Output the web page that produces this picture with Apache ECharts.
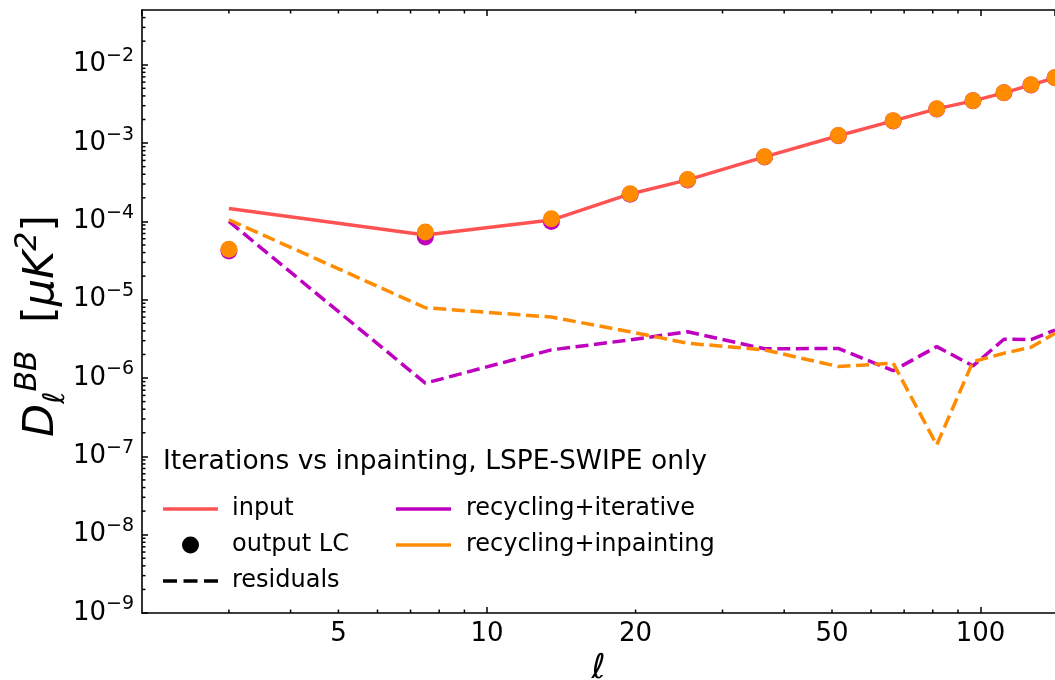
<!DOCTYPE html>
<html>
<head>
<meta charset="utf-8">
<title>BB spectra</title>
<script src="https://cdn.jsdelivr.net/npm/echarts@6/dist/echarts.min.js"></script>
<style>
  html, body { margin: 0; padding: 0; background: #fff; }
  #chart { width: 1055px; height: 680px; }
</style>
</head>
<body>
<div id="chart"></div>
<script>
// multipole bin centres
var ell = [3, 7.5, 13.5, 19.5, 25.5, 36.5, 51.5, 66.5, 81.5, 96.5, 111.5, 126.5, 141.5];
// input spectrum
var input = [1.46e-4, 6.7e-5, 1.04e-4, 2.24e-4, 3.39e-4, 6.67e-4, 1.24e-3, 1.92e-3, 2.73e-3, 3.46e-3, 4.38e-3, 5.53e-3, 6.8e-3];
// output LC spectra
var outIterative = [4.2e-5, 6.3e-5, 1.0e-4, 2.22e-4, 3.37e-4, 6.65e-4, 1.24e-3, 1.92e-3, 2.73e-3, 3.46e-3, 4.38e-3, 5.53e-3, 6.8e-3];
var outInpainting = [4.4e-5, 7.3e-5, 1.08e-4, 2.25e-4, 3.42e-4, 6.7e-4, 1.25e-3, 1.93e-3, 2.74e-3, 3.47e-3, 4.39e-3, 5.55e-3, 6.82e-3];
// residuals
var resIterative = [1.0e-4, 8.6e-7, 2.29e-6, 3.07e-6, 3.9e-6, 2.36e-6, 2.39e-6, 1.24e-6, 2.52e-6, 1.43e-6, 3.13e-6, 3.1e-6, 4.1e-6];
var resInpainting = [1.05e-4, 7.9e-6, 6.0e-6, 3.9e-6, 2.78e-6, 2.29e-6, 1.40e-6, 1.55e-6, 1.40e-7, 1.62e-6, 2.07e-6, 2.47e-6, 3.73e-6];

// ticks
var xMinorTicks = [3, 4, 5, 6, 7, 8, 9, 20, 30, 40, 50, 60, 70, 80, 90];
var xExtraLabels = [5, 20, 50];
var yMultipliers = [2, 3, 4, 5, 6, 7, 8, 9];
var yDecades = [-9, -8, -7, -6, -5, -4, -3, -2];

var xMin = 2, xMax = 141.5, yMin = 1e-9, yMax = 0.05;
var FONT = 'DejaVu Sans';
var RED = '#ff5252', MAG = '#bf00bf', ORANGE = '#ff8c00';
var LINE_ICON = 'path://M0,0h55v3.5h-55z';
var DASH_ICON = 'path://M0,0h14v3.5h-14z M20.5,0h14v3.5h-14z M41,0h14v3.5h-14z';

function pairs(xs, ys) {
    return xs.map(function (x, i) { return [x, ys[i]]; });
}

var yMinorTicks = [];
yDecades.forEach(function (d) {
    yMultipliers.forEach(function (m) {
        var v = m * Math.pow(10, d);
        if (v < yMax) yMinorTicks.push(v);
    });
});

function renderXTicks(params, api) {
    var v = api.value(0);
    var b = api.coord([v, yMin]);
    var t = api.coord([v, yMax]);
    var st = { stroke: '#000', lineWidth: 1.5 };
    var children = [
        { type: 'line', shape: { x1: b[0], y1: b[1], x2: b[0], y2: b[1] - 3.5 }, style: st },
        { type: 'line', shape: { x1: t[0], y1: t[1], x2: t[0], y2: t[1] + 3.5 }, style: st }
    ];
    if (xExtraLabels.indexOf(v) >= 0) {
        children.push({
            type: 'text', x: b[0], y: b[1] + 8,
            style: { text: String(v), fontSize: 26, fontFamily: FONT, fill: '#000', align: 'center', verticalAlign: 'top' }
        });
    }
    return { type: 'group', children: children };
}

function renderYTicks(params, api) {
    var p = api.coord([xMin, api.value(1)]);
    return {
        type: 'line',
        shape: { x1: p[0], y1: p[1], x2: p[0] + 3.5, y2: p[1] },
        style: { stroke: '#000', lineWidth: 1.5 }
    };
}

var chart = echarts.init(document.getElementById('chart'), null, { renderer: 'canvas' });

var axisCommon = {
    type: 'log',
    logBase: 10,
    min: xMin,
    max: xMax,
    splitLine: { show: false },
    axisLine: { lineStyle: { color: '#000', width: 1.6 } },
    axisTick: { inside: true, length: 6, lineStyle: { color: '#000', width: 1.5 } }
};

var legendText = { fontSize: 24, lineHeight: 24, fontFamily: FONT, color: '#000' };

chart.setOption({
    animation: false,
    backgroundColor: '#fff',
    grid: { left: 142, right: 0, top: 10, bottom: 67, outerBoundsMode: 'none', containLabel: false },
    title: {
        text: 'Iterations vs inpainting, LSPE-SWIPE only',
        left: 163, top: 449, padding: 0,
        textStyle: { fontSize: 26.5, fontWeight: 'normal', fontFamily: FONT, color: '#000', lineHeight: 26 }
    },
    legend: [
        {
            left: 163, top: 497, padding: 0, orient: 'vertical', itemWidth: 55, itemHeight: 17, itemGap: 12,
            selectedMode: false,
            data: [
                { name: 'input', icon: LINE_ICON, itemStyle: { color: RED, borderWidth: 0 } },
                { name: 'output LC', icon: 'circle', itemStyle: { color: '#000', opacity: 1, borderWidth: 0 } },
                { name: 'residuals', icon: DASH_ICON, itemStyle: { color: '#000', borderWidth: 0 } }
            ],
            textStyle: Object.assign({ padding: [0, 0, 0, 9] }, legendText)
        },
        {
            left: 396, top: 497, padding: 0, orient: 'vertical', itemWidth: 55, itemHeight: 17, itemGap: 12,
            selectedMode: false,
            data: [
                { name: 'recycling+iterative', icon: LINE_ICON, itemStyle: { color: MAG, borderWidth: 0 } },
                { name: 'recycling+inpainting', icon: LINE_ICON, itemStyle: { color: ORANGE, borderWidth: 0 } }
            ],
            textStyle: Object.assign({ padding: [0, 0, 0, 10] }, legendText)
        }
    ],
    xAxis: [
        Object.assign({}, axisCommon, {
            position: 'bottom',
            name: '\u2113',
            nameLocation: 'middle',
            nameGap: 36,
            nameTextStyle: { fontSize: 34, fontStyle: 'italic', fontFamily: FONT, color: '#000' },
            axisLabel: { showMinLabel: false, showMaxLabel: false, margin: 8, fontSize: 26, fontFamily: FONT, color: '#000' }
        }),
        Object.assign({}, axisCommon, {
            position: 'top',
            axisLabel: { show: false }
        })
    ],
    yAxis: {
        type: 'log',
        logBase: 10,
        min: yMin,
        max: yMax,
        splitLine: { show: false },
        axisLine: { lineStyle: { color: '#000', width: 1.6 } },
        axisTick: { inside: true, length: 6, lineStyle: { color: '#000', width: 1.5 } },
        axisLabel: {
            showMaxLabel: false,
            margin: 8,
            color: '#000',
            formatter: function (v) {
                var e = Math.round(Math.log10(v));
                return '{b|10}{s|' + (e < 0 ? '\u2212' + (-e) : e) + '}';
            },
            rich: {
                b: { fontSize: 26, lineHeight: 36, fontFamily: FONT, color: '#000' },
                s: { fontSize: 19, lineHeight: 19, fontFamily: FONT, color: '#000', verticalAlign: 'top' }
            }
        }
    },
    graphic: [{
        type: 'text',
        x: 42, y: 326,
        rotation: Math.PI / 2,
        style: {
            text: '{i|D}{sub|\u2113}{sup|BB}{r|  [}{i|\u03bcK}{sup|2}{r|]}',
            align: 'center',
            verticalAlign: 'middle',
            rich: {
                i: { fontSize: 43, fontStyle: 'italic', fontFamily: FONT, lineHeight: 58, fill: '#000' },
                r: { fontSize: 43, fontFamily: FONT, lineHeight: 58, fill: '#000' },
                sub: { fontSize: 30, fontStyle: 'italic', fontFamily: FONT, lineHeight: 30, verticalAlign: 'bottom', fill: '#000' },
                sup: { fontSize: 30, fontStyle: 'italic', fontFamily: FONT, lineHeight: 30, verticalAlign: 'top', fill: '#000' }
            }
        }
    }],
    series: [
        {
            name: 'input', type: 'line', data: pairs(ell, input), symbol: 'none',
            lineStyle: { color: RED, width: 3.5 }, itemStyle: { color: RED }, z: 2
        },
        {
            name: 'res iterative', type: 'line', data: pairs(ell, resIterative), symbol: 'none',
            lineStyle: { color: MAG, width: 3.5, type: [13, 5.6] }, itemStyle: { color: MAG }, z: 2
        },
        {
            name: 'res inpainting', type: 'line', data: pairs(ell, resInpainting), symbol: 'none',
            lineStyle: { color: ORANGE, width: 3.5, type: [13, 5.6] }, itemStyle: { color: ORANGE }, z: 2
        },
        {
            name: 'out iterative', type: 'scatter', data: pairs(ell, outIterative), symbolSize: 17,
            itemStyle: { color: MAG, opacity: 1 }, z: 3
        },
        {
            name: 'out inpainting', type: 'scatter', data: pairs(ell, outInpainting), symbolSize: 17,
            itemStyle: { color: ORANGE, opacity: 1 }, z: 4
        },
        // legend-only entries
        { name: 'output LC', type: 'scatter', data: [], symbol: 'circle', itemStyle: { color: '#000', opacity: 1 } },
        { name: 'residuals', type: 'line', data: [], symbol: 'none', itemStyle: { color: '#000' },
          lineStyle: { color: '#000', width: 3.5, type: [13, 5.6] } },
        { name: 'recycling+iterative', type: 'line', data: [], symbol: 'none', itemStyle: { color: MAG },
          lineStyle: { color: MAG, width: 3.5 } },
        { name: 'recycling+inpainting', type: 'line', data: [], symbol: 'none', itemStyle: { color: ORANGE },
          lineStyle: { color: ORANGE, width: 3.5 } },
        // minor ticks
        {
            type: 'custom', silent: true, z: 10,
            data: xMinorTicks.map(function (v) { return [v, yMin]; }),
            renderItem: renderXTicks
        },
        {
            type: 'custom', silent: true, z: 10,
            data: yMinorTicks.map(function (v) { return [xMin, v]; }),
            renderItem: renderYTicks
        }
    ]
});
</script>
</body>
</html>
